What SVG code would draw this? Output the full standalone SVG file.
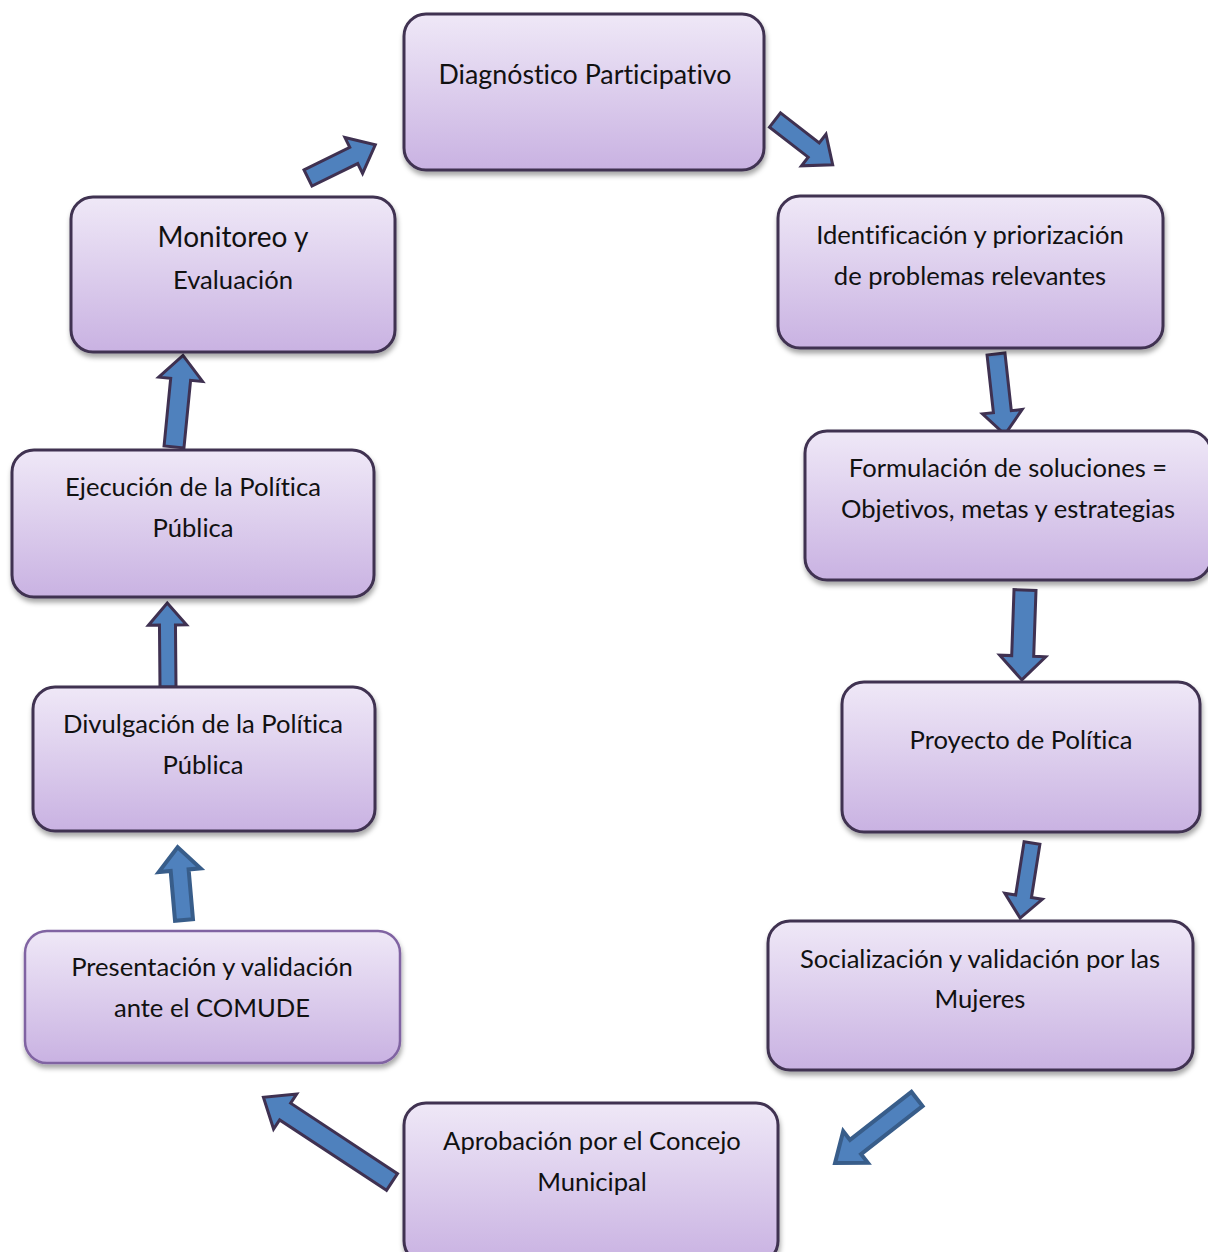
<svg xmlns="http://www.w3.org/2000/svg" width="1208" height="1252" viewBox="0 0 1208 1252">
<defs>
<linearGradient id="g" x1="0" y1="0" x2="0" y2="1">
<stop offset="0" stop-color="#efe8f7"/>
<stop offset="1" stop-color="#c9b2e2"/>
</linearGradient>
<filter id="sh" x="-10%" y="-10%" width="120%" height="130%">
<feDropShadow dx="1" dy="4" stdDeviation="2.5" flood-color="#000" flood-opacity="0.35"/>
</filter>
</defs>
<style>
.box{fill:url(#g);stroke:#3f3151;stroke-width:3;filter:url(#sh)}
.box2{fill:url(#g);stroke:#8064a2;stroke-width:2.5;filter:url(#sh)}
text{font-family:Lato,"Open Sans","Liberation Sans",sans-serif;font-size:25.6px;fill:#111;text-anchor:middle;font-variant-ligatures:none}
.arr{fill:#4f81bd;stroke:#3f3151;stroke-width:3;stroke-linejoin:miter}
.arrb{fill:#4f81bd;stroke:#385d8a;stroke-width:4;stroke-linejoin:miter}
</style>
<rect width="1208" height="1252" fill="#fff"/>
<g id="connectors">
<polygon class="arr" transform="translate(308,178) rotate(-26.2)" points="0,-9 51,-9 51,-20 75,0 51,20 51,9 0,9"/>
<polygon class="arr" transform="translate(775,120) rotate(37.8)" points="0,-9 49,-9 49,-20 73,0 49,20 49,9 0,9"/>
<polygon class="arr" transform="translate(996,354) rotate(83.7)" points="0,-9 58,-9 58,-20 81,0 58,20 58,9 0,9"/>
<polygon class="arr" transform="translate(1025,590) rotate(92)" points="0,-11 66,-11 66,-23 90,0 66,23 66,11 0,11"/>
<polygon class="arr" transform="translate(1032,843) rotate(99)" points="0,-8 54,-8 54,-19 76,0 54,19 54,8 0,8"/>
<polygon class="arrb" transform="translate(917,1099) rotate(142)" points="0,-9 78,-9 78,-20 104,0 78,20 78,9 0,9"/>
<polygon class="arr" transform="translate(392,1182) rotate(-146.6)" points="0,-10 128,-10 128,-21 154,0 128,21 128,10 0,10"/>
<polygon class="arrb" transform="translate(184,920) rotate(-95)" points="0,-9 50,-9 50,-21 73,0 50,21 50,9 0,9"/>
<polygon class="arr" transform="translate(168,687) rotate(-90.5)" points="0,-8 62,-8 62,-19 84,0 62,19 62,8 0,8"/>
<polygon class="arr" transform="translate(174,447) rotate(-84.4)" points="0,-10 68,-10 68,-22 92,0 68,22 68,10 0,10"/>
</g>
<g id="n1"><rect class="box" x="404" y="14" width="360" height="156" rx="22"/><text x="585" y="84" style="font-size:26.8px">Diagnóstico Participativo</text></g>
<g id="n2"><rect class="box" x="778" y="196" width="385" height="152" rx="22"/><text x="970" y="244">Identificación y priorización</text><text x="970" y="285">de problemas relevantes</text></g>
<g id="n3"><rect class="box" x="805" y="431" width="406" height="149" rx="22"/><text x="1008" y="477">Formulación de soluciones =</text><text x="1008" y="518">Objetivos, metas y estrategias</text></g>
<g id="n4"><rect class="box" x="842" y="682" width="358" height="150" rx="22"/><text x="1021" y="749">Proyecto de Política</text></g>
<g id="n5"><rect class="box" x="768" y="921" width="425" height="149" rx="22"/><text x="980" y="968">Socialización y validación por las</text><text x="980" y="1008">Mujeres</text></g>
<g id="n6"><rect class="box" x="404" y="1103" width="374" height="160" rx="22"/><text x="592" y="1150">Aprobación por el Concejo</text><text x="592" y="1191">Municipal</text></g>
<g id="n7"><rect class="box2" x="25" y="931" width="375" height="132" rx="22"/><text x="212" y="976">Presentación y validación</text><text x="212" y="1017">ante el COMUDE</text></g>
<g id="n8"><rect class="box" x="33" y="687" width="342" height="144" rx="22"/><text x="203" y="733">Divulgación de la Política</text><text x="203" y="774">Pública</text></g>
<g id="n9"><rect class="box" x="12" y="450" width="362" height="147" rx="22"/><text x="193" y="496">Ejecución de la Política</text><text x="193" y="537">Pública</text></g>
<g id="n10"><rect class="box" x="71" y="197" width="324" height="155" rx="22"/><text x="233" y="247" style="font-size:28px">Monitoreo y</text><text x="233" y="289">Evaluación</text></g>
</svg>
